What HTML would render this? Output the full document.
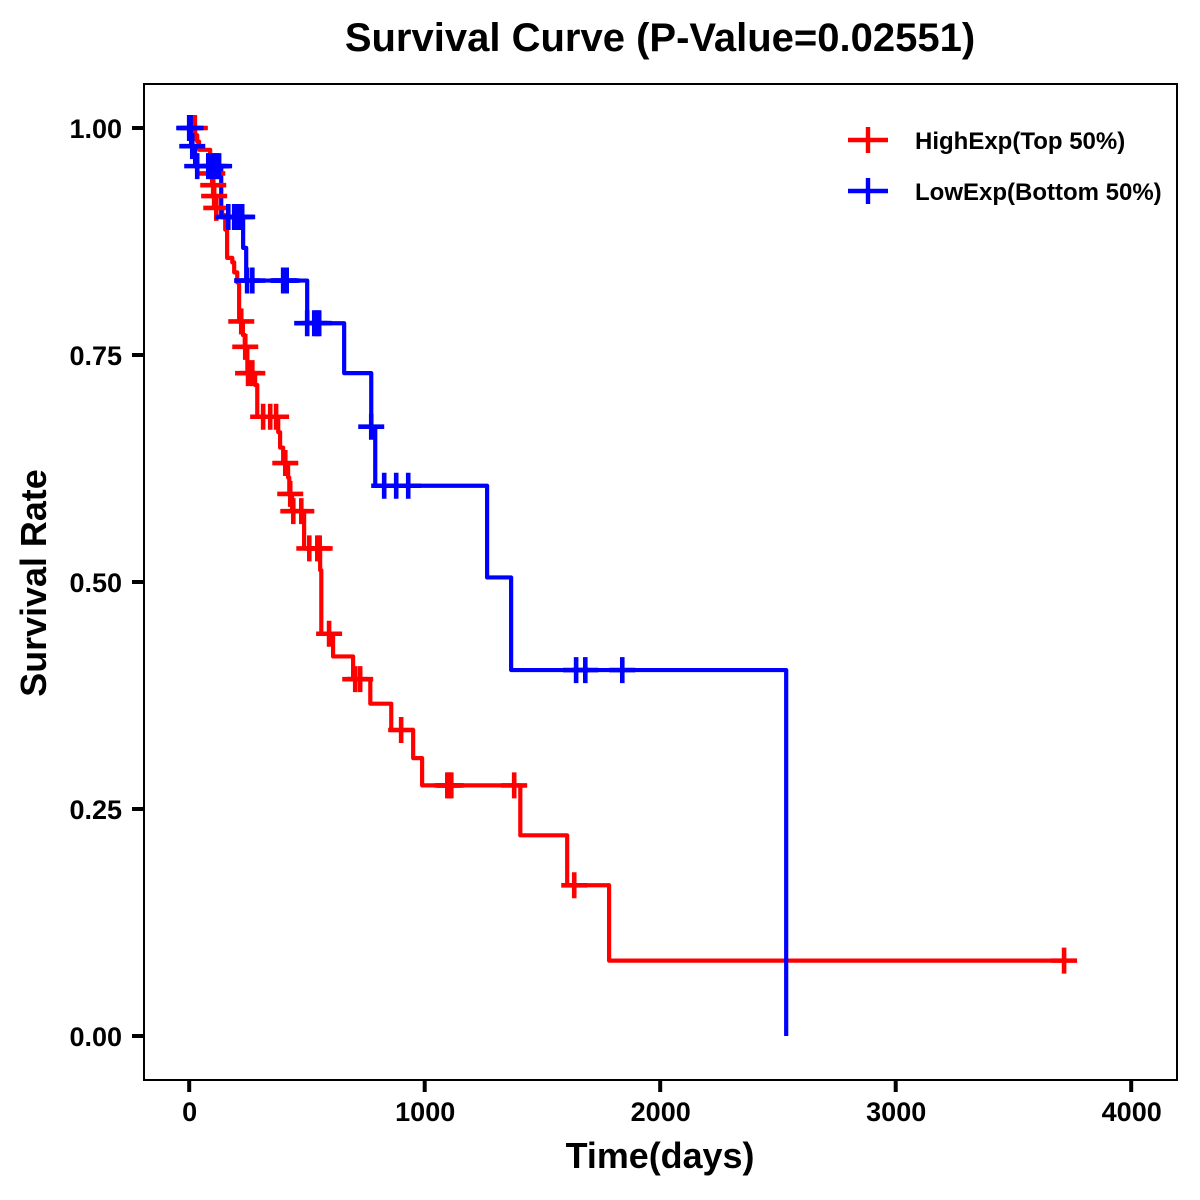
<!DOCTYPE html>
<html>
<head>
<meta charset="utf-8">
<title>Survival Curve</title>
<style>
html,body{margin:0;padding:0;background:#fff;width:1200px;height:1200px;overflow:hidden}
svg{display:block}
text{font-family:"Liberation Sans",Arial,sans-serif;font-weight:bold;fill:#000}
</style>
</head>
<body>
<svg id="chart" width="1200" height="1200" viewBox="0 0 1200 1200">
<rect width="1200" height="1200" fill="#fff"/>
<text x="660" y="51" text-anchor="middle" font-size="40">Survival Curve (P-Value=0.02551)</text>
<text x="660" y="1168" text-anchor="middle" font-size="35.9">Time(days)</text>
<text transform="translate(46,583) rotate(-90)" text-anchor="middle" font-size="35.9">Survival Rate</text>
<g id="lines"></g>
<g id="marks"></g>
<rect x="144" y="84" width="1033" height="996" fill="none" stroke="#000" stroke-width="2"/>
<g id="axes"></g>
<g>
<g>
<path d="M848 140H888M868 127V153" stroke="#f00" stroke-width="4.4" fill="none"/>
<text x="915" y="149" font-size="24">HighExp(Top 50%)</text>
</g>
<g>
<path d="M848 191H888M868 178V204" stroke="#00f" stroke-width="4.4" fill="none"/>
<text x="915" y="200" font-size="24">LowExp(Bottom 50%)</text>
</g>
</g>
</svg>
<script>
const xTicks = [0, 1000, 2000, 3000, 4000];
const yTicks = [0, 0.25, 0.5, 0.75, 1];
const yTickLabels = ["0.00", "0.25", "0.50", "0.75", "1.00"];

const highTimes = [25, 34, 42, 89, 94, 100, 105, 113, 140, 153, 161, 183, 191, 204, 212, 228, 236, 247, 280, 289, 378, 386, 399, 405, 420, 425, 437, 488, 556, 561, 611, 696, 769, 858, 951, 989, 1406, 1605, 1783];
const highSurv = [0.992, 0.985, 0.976, 0.959, 0.950, 0.937, 0.925, 0.912, 0.904, 0.888, 0.857, 0.852, 0.841, 0.830, 0.787, 0.772, 0.759, 0.730, 0.717, 0.682, 0.665, 0.648, 0.631, 0.631, 0.615, 0.597, 0.578, 0.537, 0.513, 0.443, 0.418, 0.393, 0.366, 0.337, 0.306, 0.276, 0.221, 0.166, 0.083];
const highCensor = [24, 98, 102, 106, 115, 221, 238, 250, 268, 314, 344, 369, 408, 429, 442, 476, 510, 544, 554, 594, 705, 726, 900, 1096, 1104, 1113, 1380, 1635, 3715];
const highEnd = 3715;

const lowTimes = [8, 25, 136, 229, 242, 501, 658, 773, 790, 1265, 1367, 2535];
const lowSurv = [0.980, 0.958, 0.902, 0.868, 0.832, 0.785, 0.730, 0.671, 0.606, 0.505, 0.403, 0];
const lowCensor = [0, 6, 13, 34, 81, 93, 106, 115, 127, 166, 191, 204, 217, 225, 246, 268, 399, 403, 414, 501, 531, 543, 552, 773, 828, 879, 930, 1643, 1682, 1839];
const lowEnd = 2535;

const NS = "http://www.w3.org/2000/svg";
const xScale = t => 189.2 + t * 0.2355;
const yScale = s => 1036 - s * 908;

function survivalAt(times, surv, t) {
  let s = 1;
  for (let i = 0; i < times.length; i++) {
    if (t >= times[i]) s = surv[i];
  }
  return s;
}

function stepPath(times, surv, end) {
  let d = "M" + xScale(0) + " " + yScale(1);
  for (let i = 0; i < times.length; i++) {
    d += "H" + xScale(times[i]) + "V" + yScale(surv[i]);
  }
  return d + "H" + xScale(end);
}

const lines = document.getElementById("lines");
const marks = document.getElementById("marks");
const axes = document.getElementById("axes");

function drawLine(times, surv, end, color, name) {
  const p = document.createElementNS(NS, "path");
  p.setAttribute("d", stepPath(times, surv, end));
  p.setAttribute("fill", "none");
  p.setAttribute("stroke", color);
  p.setAttribute("stroke-width", "4.2");
  p.setAttribute("stroke-linejoin", "round");
  
  
  lines.appendChild(p);
}

function drawCensor(censor, times, surv, color, name) {
  censor.forEach(t => {
    const x = xScale(t);
    const y = yScale(survivalAt(times, surv, t));
    const p = document.createElementNS(NS, "path");
    p.setAttribute("d", "M" + (x - 13) + " " + y + "H" + (x + 13) + "M" + x + " " + (y - 13) + "V" + (y + 13));
    p.setAttribute("fill", "none");
    p.setAttribute("stroke", color);
    p.setAttribute("stroke-width", "4.6");
    
    
    marks.appendChild(p);
  });
}

drawLine(highTimes, highSurv, highEnd, "#f00", "high-exp-curve");
drawLine(lowTimes, lowSurv, lowEnd, "#00f", "low-exp-curve");
drawCensor(highCensor, highTimes, highSurv, "#f00", "high-exp-censor-mark");
drawCensor(lowCensor, lowTimes, lowSurv, "#00f", "low-exp-censor-mark");

xTicks.forEach(v => {
  const x = xScale(v);
  const l = document.createElementNS(NS, "line");
  l.setAttribute("x1", x);
  l.setAttribute("x2", x);
  l.setAttribute("y1", 1080);
  l.setAttribute("y2", 1092);
  l.setAttribute("stroke", "#000");
  l.setAttribute("stroke-width", "4");
  
  
  axes.appendChild(l);
  const t = document.createElementNS(NS, "text");
  t.setAttribute("x", x + 0.5);
  t.setAttribute("y", 1121);
  t.setAttribute("text-anchor", "middle");
  t.setAttribute("font-size", "27");
  
  
  t.textContent = String(v);
  axes.appendChild(t);
});

yTicks.forEach((v, i) => {
  const y = yScale(v);
  const l = document.createElementNS(NS, "line");
  l.setAttribute("x1", 132);
  l.setAttribute("x2", 144);
  l.setAttribute("y1", y);
  l.setAttribute("y2", y);
  l.setAttribute("stroke", "#000");
  l.setAttribute("stroke-width", "4");
  
  
  axes.appendChild(l);
  const t = document.createElementNS(NS, "text");
  t.setAttribute("x", 122);
  t.setAttribute("y", y + 9.8);
  t.setAttribute("text-anchor", "end");
  t.setAttribute("font-size", "27");
  
  
  t.textContent = yTickLabels[i];
  axes.appendChild(t);
});
</script>
</body>
</html>
